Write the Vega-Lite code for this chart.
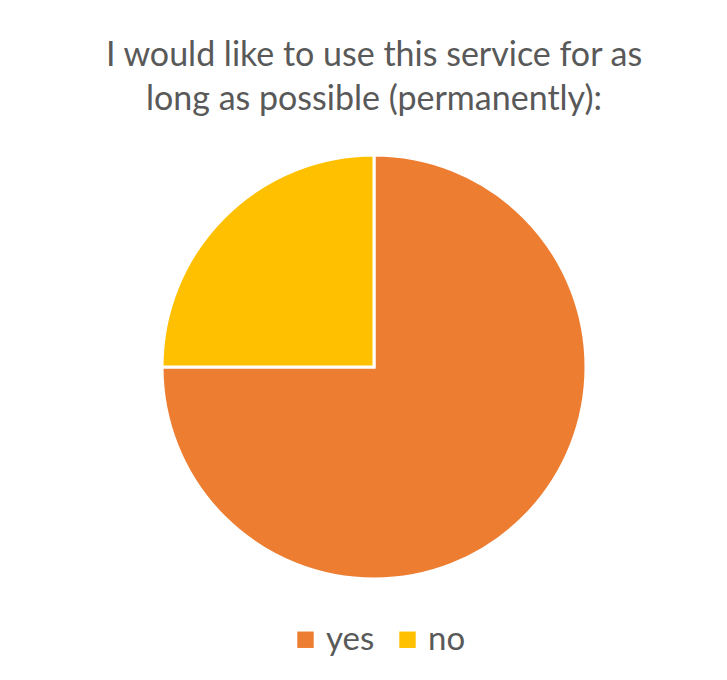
{
  "$schema": "https://vega.github.io/schema/vega-lite/v6.json",
  "autosize": {"type": "none"},
  "width": 706,
  "height": 434,
  "padding": {"left": 21, "top": 150, "right": 0, "bottom": 96},
  "background": "white",
  "title": {
    "text": ["I would like to use this service for as", "long as possible (permanently):"],
    "font": "Lato",
    "fontSize": 34,
    "fontWeight": "normal",
    "color": "#595959",
    "lineHeight": 44,
    "anchor": "middle",
    "offset": 32
  },
  "data": {
    "values": [
      {"answer": "yes", "value": 75},
      {"answer": "no", "value": 25}
    ]
  },
  "mark": {"type": "arc", "outerRadius": 212, "stroke": "white", "strokeWidth": 3},
  "encoding": {
    "theta": {"field": "value", "type": "quantitative", "stack": true},
    "order": {"field": "answer", "sort": "descending"},
    "color": {
      "field": "answer",
      "type": "nominal",
      "scale": {"domain": ["yes", "no"], "range": ["#ED7D31", "#FFC000"]},
      "legend": {
        "title": null,
        "orient": "none",
        "legendX": 268,
        "legendY": 473,
        "direction": "horizontal",
        "padding": 0,
        "symbolType": "square",
        "symbolSize": 270,
        "symbolStrokeWidth": 0,
        "labelFont": "Lato",
        "labelFontSize": 33,
        "labelColor": "#595959",
        "columnPadding": 16,
        "labelOffset": 4
      }
    }
  },
  "config": {"view": {"stroke": null}}
}
